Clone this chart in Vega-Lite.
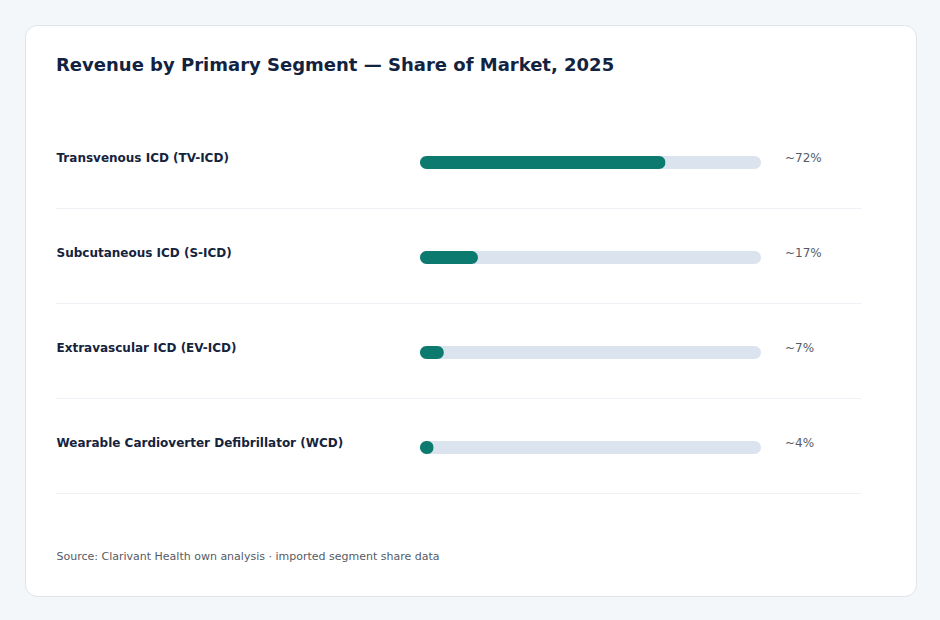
{
  "$schema": "https://vega.github.io/schema/vega-lite/v6.json",
  "width": 891,
  "height": 571,
  "autosize": {"type": "none"},
  "padding": {"left": 25, "top": 25, "right": 24, "bottom": 24},
  "background": "#f4f7fa",
  "config": {
    "font": "DejaVu Sans",
    "view": {"fill": "#ffffff", "stroke": "#dfe4ea", "strokeWidth": 1, "cornerRadius": 12}
  },
  "title": {
    "text": "Revenue by Primary Segment — Share of Market, 2025",
    "anchor": "start",
    "frame": "group",
    "dx": 31,
    "offset": -64,
    "baseline": "alphabetic",
    "font": "DejaVu Sans",
    "fontSize": 18,
    "fontWeight": "bold",
    "color": "#13233f"
  },
  "data": {
    "values": [
      {"segment": "Transvenous ICD (TV-ICD)", "share": 72, "label": "~72%"},
      {"segment": "Subcutaneous ICD (S-ICD)", "share": 17, "label": "~17%"},
      {"segment": "Extravascular ICD (EV-ICD)", "share": 7, "label": "~7%"},
      {"segment": "Wearable Cardioverter Defibrillator (WCD)", "share": 4, "label": "~4%"}
    ]
  },
  "encoding": {
    "y": {
      "field": "segment",
      "type": "nominal",
      "sort": null,
      "scale": {"range": [88, 468], "paddingInner": 0, "paddingOuter": 0},
      "axis": {
        "title": null,
        "orient": "left",
        "domain": false,
        "ticks": false,
        "bandPosition": 1,
        "labelOffset": 1,
        "labelPadding": -31,
        "labelAlign": "left",
        "labelBaseline": "alphabetic",
        "labelFont": "DejaVu Sans",
        "labelFontSize": 12,
        "labelFontWeight": "bold",
        "labelColor": "#15233d",
        "labelLimit": 400,
        "grid": true,
        "gridColor": "#eef1f5",
        "gridWidth": 1
      }
    }
  },
  "layer": [
    {
      "mark": {"type": "bar", "height": 13, "yOffset": 2, "cornerRadius": 6.5, "color": "#dbe4ee"},
      "encoding": {
        "x": {
          "datum": 100,
          "type": "quantitative",
          "scale": {"domain": [-106.745, 129.326], "range": [31, 836], "zero": false, "nice": false},
          "axis": {
            "title": "Source: Clarivant Health own analysis · imported segment share data",
            "domain": false,
            "ticks": false,
            "labels": false,
            "grid": false,
            "titleX": 31,
            "titleY": -37,
            "titleAlign": "left",
            "titleAnchor": "start",
            "titleBaseline": "alphabetic",
            "titleFont": "DejaVu Sans",
            "titleFontSize": 11,
            "titleFontWeight": "normal",
            "titleColor": "#555b65"
          }
        }
      }
    },
    {
      "mark": {"type": "bar", "height": 13, "yOffset": 2, "cornerRadius": 6.5, "color": "#0c7a6e"},
      "encoding": {
        "x": {"field": "share", "type": "quantitative"}
      }
    },
    {
      "mark": {"type": "text", "align": "left", "baseline": "alphabetic", "dx": 24, "dy": 1.5, "fontSize": 12, "color": "#555b65", "font": "DejaVu Sans"},
      "encoding": {
        "x": {"datum": 100, "type": "quantitative"},
        "text": {"field": "label"}
      }
    }
  ]
}
